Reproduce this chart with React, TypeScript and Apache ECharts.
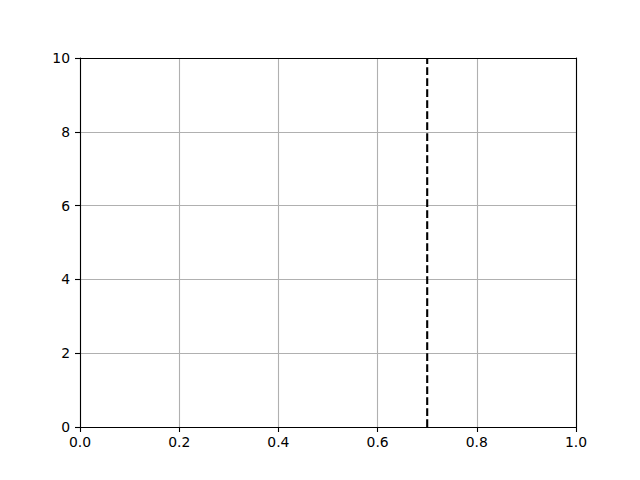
import React, { useRef, useEffect } from 'react';
import * as echarts from 'echarts';

// axis ranges and ticks
const xTicks = [0.0, 0.2, 0.4, 0.6, 0.8, 1.0];
const yTicks = [0, 2, 4, 6, 8, 10];
// dashed vertical marker
const vlineX = [0.7, 0.7];
const vlineY = [0, 10];

const App: React.FC = () => {
  const chartRef = useRef<HTMLDivElement>(null);

  useEffect(() => {
    if (!chartRef.current) return;
    const chart = echarts.init(chartRef.current, undefined, { renderer: 'svg' });

    const axisCommon = {
      axisLine: { show: true, onZero: false, lineStyle: { color: '#000', width: 1.1 } },
      axisTick: { show: true, inside: false, length: 5, lineStyle: { color: '#000', width: 1.1 } },
      axisLabel: {
        color: '#000',
        fontFamily: 'DejaVu Sans',
        fontSize: 13.9,
        margin: 8,
      },
      splitLine: { show: true, lineStyle: { color: '#b0b0b0', width: 1.1 } },
    };

    // spine-only axes for the top and right edges
    const spine = {
      type: 'value',
      axisLine: { show: true, onZero: false, lineStyle: { color: '#000', width: 1.1 } },
      axisTick: { show: false },
      axisLabel: { show: false },
      splitLine: { show: false },
      z: 10,
    };

    chart.setOption({
      animation: false,
      grid: {
        left: 80,
        right: 64,
        top: 58,
        bottom: 53,
      },
      xAxis: [
        {
          type: 'value',
          min: xTicks[0],
          max: xTicks[xTicks.length - 1],
          interval: 0.2,
          ...axisCommon,
          axisLabel: {
            ...axisCommon.axisLabel,
            formatter: (v: number) => v.toFixed(1),
          },
        },
        { ...spine, position: 'top', min: xTicks[0], max: xTicks[xTicks.length - 1] },
      ],
      yAxis: [
        {
          type: 'value',
          min: yTicks[0],
          max: yTicks[yTicks.length - 1],
          interval: 2,
          ...axisCommon,
          axisLabel: {
            ...axisCommon.axisLabel,
            margin: 10,
          },
        },
        { ...spine, position: 'right', min: yTicks[0], max: yTicks[yTicks.length - 1] },
      ],
      series: [
        {
          type: 'line',
          data: vlineX.map((x, i) => [x, vlineY[i]]),
          symbol: 'none',
          lineStyle: { color: '#000', width: 2.1, type: [7.7, 3.3] },
          z: 5,
        },
      ],
    });

    return () => {
      chart.dispose();
    };
  }, []);

  return (
    <div
      ref={chartRef}
      style={{ position: 'absolute', left: 0, top: 0, width: 640, height: 480, background: '#fff' }}
    />
  );
};

export default App;
